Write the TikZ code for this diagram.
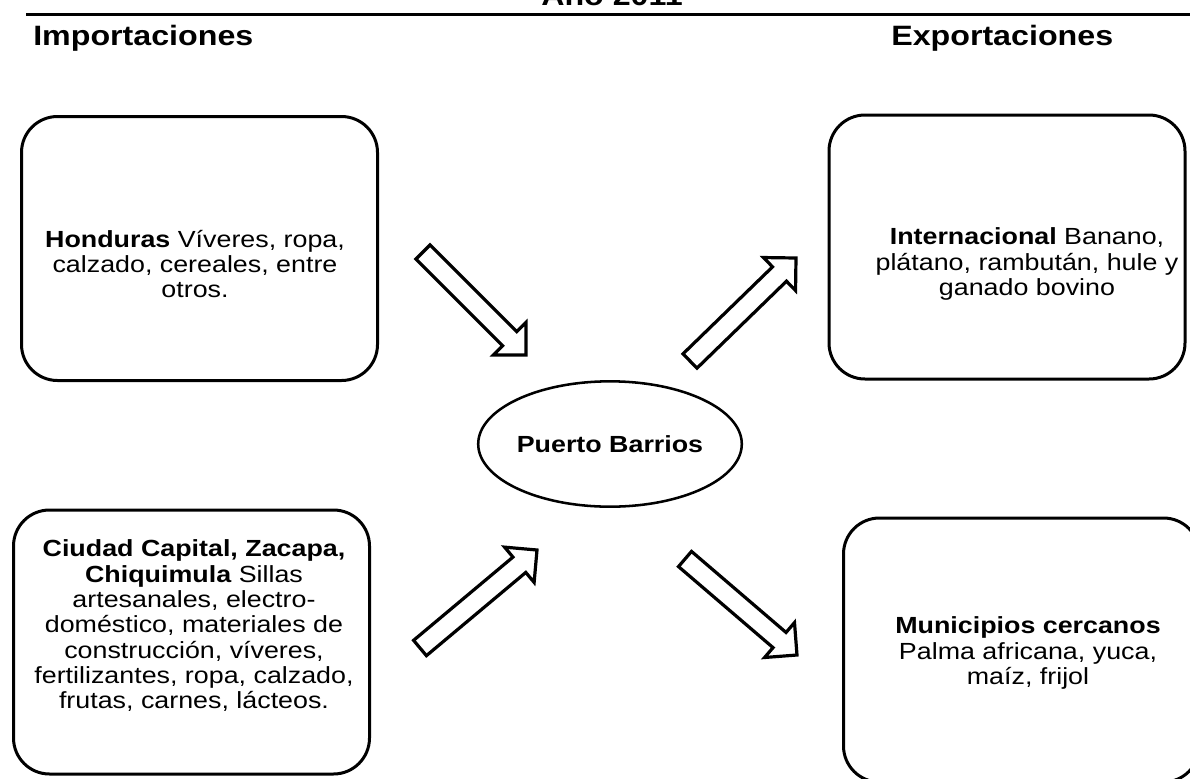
\documentclass[tikz,border=0pt]{standalone}
\usepackage{fontspec}
\setmainfont{Liberation Sans}[FakeStretch=1.15]
\usetikzlibrary{calc,shapes.geometric}

\tikzset{
  heading/.style={font=\fontsize{21pt}{24pt}\selectfont\bfseries, inner sep=0pt},
  box/.style={draw, line width=2.25pt, rounded corners=27pt,
    minimum width=267pt, minimum height=198pt},
  boxtext/.style={align=center, font=\fontsize{17.5pt}{19pt}\selectfont, inner sep=0pt},
  hollow/.style={draw, fill=white, line width=2.4pt, line join=miter},
}
% hollow block arrow from tail #1 to tip #2
\newcommand\hollowarrow[2]{%
  \coordinate (hb) at ($(#2)!17.25pt!(#1)$);
  \draw[hollow] ($(#1)!7.5pt!90:(#2)$) -- ($(hb)!7.5pt!90:(#2)$)
    -- ($(hb)!17.25pt!90:(#2)$) -- (#2) -- ($(hb)!17.25pt!-90:(#2)$)
    -- ($(hb)!7.5pt!-90:(#2)$) -- ($(#1)!7.5pt!-90:(#2)$) -- cycle;}

\begin{document}
\begin{tikzpicture}[x=0.75pt,y=-0.75pt]
  \path[use as bounding box, clip] (0,0) rectangle (1190,779);
  % title rule and headings
  \node[heading, anchor=base] (anio) at (612,5) {Año 2011};
  \draw[line width=2.25pt] (26,14) -- (1190,14);
  \node[heading, anchor=base west] (imp) at (33,45) {Importaciones};
  \node[heading, anchor=base west] (exp) at (891,45) {Exportaciones};

  % boxes
  \node[box] (hon) at (199.5,248.5) {};
  \node[box] (ciu) at (191.5,642) {};
  \node[box] (int) at (1007,247) {};
  \node[box] (mun) at (1021.5,650) {};
  \node[boxtext] (hontxt) at (195,264)
    {\textbf{Honduras} Víveres, ropa,\\calzado, cereales, entre\\otros.};
  \node[boxtext] (ciutxt) at (194,626)
    {\textbf{Ciudad Capital, Zacapa,}\\\textbf{Chiquimula} Sillas\\artesanales, electro-\\
     doméstico, materiales de\\construcción, víveres,\\fertilizantes, ropa, calzado,\\
     frutas, carnes, lácteos.};
  \node[boxtext] (inttxt) at (1027,264)
    {\textbf{Internacional} Banano,\\plátano, rambután, hule y\\ganado bovino};
  \node[boxtext] (muntxt) at (1028,653)
    {\textbf{Municipios cercanos}\\Palma africana, yuca,\\maíz, frijol};

  % centre
  \node[draw, ellipse, line width=1.9pt, minimum width=177pt, minimum height=94pt,
    inner sep=0pt, font=\fontsize{17.5pt}{19pt}\selectfont\bfseries] (pb) at (610,444)
    {Puerto Barrios};

  % arrows
  \coordinate (honout) at (423,252);  \coordinate (pbin1) at (526,355);
  \coordinate (ciuout) at (420,648);  \coordinate (pbin2) at (537,550);
  \coordinate (pbout1) at (690,361);  \coordinate (intin) at (796,258);
  \coordinate (pbout2) at (685,559);  \coordinate (munin) at (797,655);
  \hollowarrow{honout}{pbin1}
  \hollowarrow{ciuout}{pbin2}
  \hollowarrow{pbout1}{intin}
  \hollowarrow{pbout2}{munin}
\end{tikzpicture}
\end{document}
